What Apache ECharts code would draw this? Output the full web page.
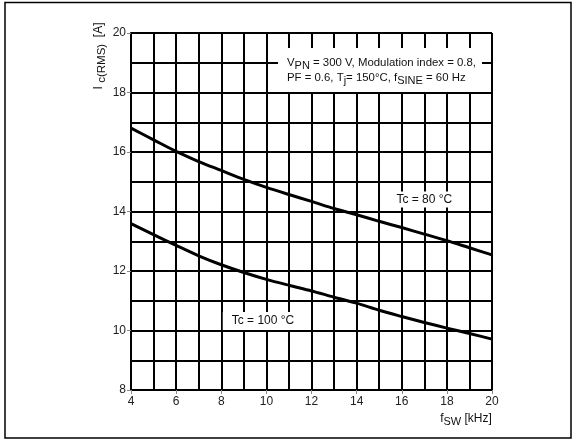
<!DOCTYPE html>
<html>
<head>
<meta charset="utf-8">
<script src="https://cdn.jsdelivr.net/npm/echarts@6/dist/echarts.min.js"></script>
<style>
  html, body { margin: 0; padding: 0; background: #fff; }
  #chart { width: 576px; height: 441px; }
</style>
</head>
<body>
<div id="chart"></div>
<script>
// switching frequency fSW [kHz]
const freq = [4, 5, 6, 7, 8, 9, 10, 11, 12, 13, 14, 15, 16, 17, 18, 19, 20];
// Ic(RMS) [A]
const tc80 = [16.80, 16.41, 16.02, 15.68, 15.38, 15.08, 14.81, 14.57, 14.34, 14.10, 13.89, 13.67, 13.46, 13.24, 13.02, 12.78, 12.54];
const tc100 = [13.59, 13.22, 12.86, 12.51, 12.21, 11.95, 11.72, 11.52, 11.33, 11.12, 10.92, 10.68, 10.47, 10.27, 10.08, 9.90, 9.71];

const seriesNames = ['Tc = 80 °C', 'Tc = 100 °C'];
const labelAt = [[17, 14.4], [9.85, 10.32]];

const FONT = '"Liberation Sans", Arial, Helvetica, sans-serif';

const toPairs = (ys) => freq.map((f, i) => [f, ys[i]]);

const chart = echarts.init(document.getElementById('chart'));

const gridLine = { show: true, lineStyle: { color: '#000', width: 2 } };

const curve = (name, ys, at, pad) => ({
  name: name,
  type: 'line',
  data: toPairs(ys),
  smooth: 0.3,
  symbol: 'none',
  lineStyle: { color: '#000', width: 3 },
  markPoint: {
    symbol: 'circle',
    symbolSize: 1,
    itemStyle: { color: 'rgba(0,0,0,0)' },
    label: {
      show: true,
      position: 'inside',
      formatter: name,
      color: '#111',
      fontFamily: FONT,
      fontSize: 12,
      backgroundColor: '#fff',
      padding: pad
    },
    data: [{ coord: at }]
  }
});

// rich text styles for main text and subscripts
const richText = (size, subSize, drop) => ({
  m: { fontSize: size, lineHeight: 15, fontFamily: FONT, fill: '#111', verticalAlign: 'middle' },
  s: { fontSize: subSize, lineHeight: 15, fontFamily: FONT, fill: '#111', padding: [drop, 0, 0, 0], verticalAlign: 'middle' }
});

chart.setOption({
  animation: false,
  textStyle: { fontFamily: FONT },
  grid: { left: 131, right: 84, top: 33, bottom: 51 },
  xAxis: {
    type: 'value',
    min: 4,
    max: 20,
    interval: 2,
    axisLine: { lineStyle: { color: '#000', width: 2 } },
    axisTick: { show: true, length: 4, lineStyle: { color: '#888', width: 1 } },
    axisLabel: { color: '#222', fontSize: 12, fontFamily: FONT, margin: 6 },
    splitLine: gridLine,
    minorTick: { show: false, splitNumber: 2 },
    minorSplitLine: gridLine
  },
  yAxis: {
    type: 'value',
    min: 8,
    max: 20,
    interval: 2,
    axisLine: { show: true, lineStyle: { color: '#000', width: 2 } },
    axisTick: { show: true, length: 4, lineStyle: { color: '#888', width: 1 } },
    axisLabel: { color: '#222', fontSize: 12, fontFamily: FONT, margin: 5 },
    splitLine: gridLine,
    minorTick: { show: false, splitNumber: 2 },
    minorSplitLine: gridLine
  },
  series: [
    curve(seriesNames[0], tc80, labelAt[0], [2, 6]),
    curve(seriesNames[1], tc100, labelAt[1], [3, 9])
  ],
  graphic: [
    // outer frame
    {
      type: 'rect',
      z: 100,
      shape: { x: 5, y: 2.5, width: 566, height: 435.5 },
      style: { fill: null, stroke: '#000', lineWidth: 1.5 }
    },
    // conditions box
    {
      type: 'rect',
      z: 100,
      shape: { x: 278, y: 48, width: 204, height: 44 },
      style: { fill: '#fff' }
    },
    {
      type: 'text',
      z: 101,
      x: 287,
      y: 55,
      style: {
        text: '{m|V}{s|PN}{m| = 300 V, Modulation index = 0.8,}\n{m|PF = 0.6, T}{s|j}{m|= 150°C, f}{s|SINE}{m| = 60 Hz}',
        fontFamily: FONT,
        fill: '#111',
        align: 'left',
        verticalAlign: 'top',
        rich: richText(11.4, 11, 6)
      }
    },
    // y axis title
    {
      type: 'text',
      z: 101,
      x: 99,
      y: 56,
      rotation: Math.PI / 2,
      style: {
        text: '{m|I }{s|c(RMS)}{m|  [A]}',
        fontFamily: FONT,
        fill: '#111',
        align: 'center',
        verticalAlign: 'middle',
        rich: richText(12, 11.5, 6)
      }
    },
    // x axis title
    {
      type: 'text',
      z: 101,
      x: 466,
      y: 419,
      style: {
        text: '{m|f}{s|SW}{m| [kHz]}',
        fontFamily: FONT,
        fill: '#111',
        align: 'center',
        verticalAlign: 'middle',
        rich: richText(12, 11, 6)
      }
    }
  ]
});
</script>
</body>
</html>
